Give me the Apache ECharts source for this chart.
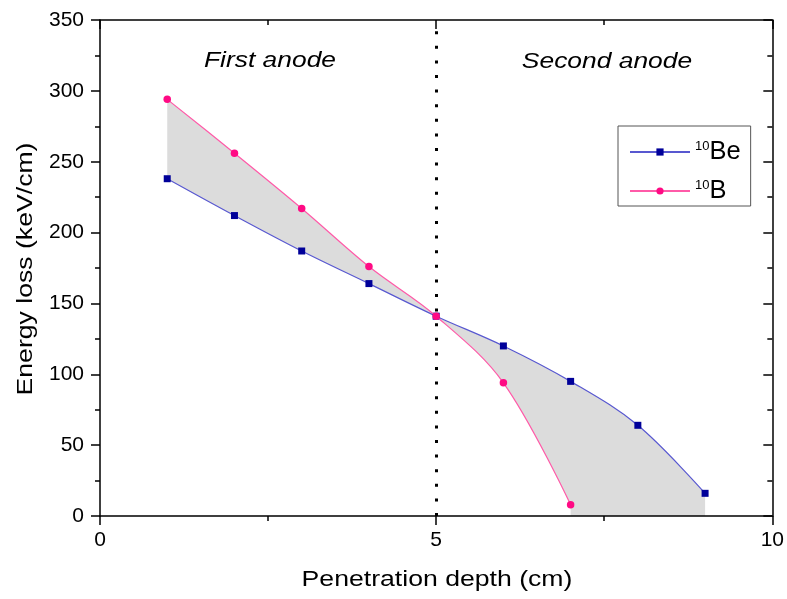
<!DOCTYPE html>
<html>
<head>
<meta charset="utf-8">
<script src="https://cdn.jsdelivr.net/npm/echarts@6/dist/echarts.min.js"></script>
<style>
  html, body { margin: 0; padding: 0; background: #fff; }
  #chart { width: 787px; height: 599px; }
</style>
</head>
<body>
<div id="chart"></div>
<script>
// Energy loss per depth for the two isotopes (keV/cm)
const depthBe = [1, 2, 3, 4, 5, 6, 7, 8, 9];
const lossBe  = [238, 212, 187, 164, 141, 120, 95, 64, 16];
const depthB  = [1, 2, 3, 4, 5, 6, 7];
const lossB   = [294, 256, 217, 176, 141, 94, 8];

// Isotope labels
const massNumber = '10';
const elementBe = 'Be';
const elementB = 'B';

// Anode boundary and region names
const anodeBoundary = 5;
const regionNames = ['First anode', 'Second anode'];

// Axis ranges and ticks
const xTicks = { min: 0, max: 10, interval: 5 };
const yTicks = { min: 0, max: 350, interval: 50 };

const SMOOTH = 0.35;
const FONT = '"Liberation Sans", Arial, sans-serif';

const pairs = (xs, ys) => xs.map((x, i) => [x, ys[i]]);
const beData = pairs(depthBe, lossBe);
const bData = pairs(depthB, lossB);

// Bezier segments for a smoothed polyline, same scheme as the line series uses.
function smoothSegments(pts, smooth) {
  const segs = [];
  let cpx0 = pts[0][0], cpy0 = pts[0][1];
  for (let i = 1; i < pts.length; i++) {
    const x = pts[i][0], y = pts[i][1];
    const prevX = pts[i - 1][0], prevY = pts[i - 1][1];
    let cpx1, cpy1, nextCpx0 = x, nextCpy0 = y;
    if (i === pts.length - 1) {
      cpx1 = x; cpy1 = y;
    } else {
      const nextX = pts[i + 1][0], nextY = pts[i + 1][1];
      let vx = nextX - prevX, vy = nextY - prevY;
      const lenPrev = Math.hypot(x - prevX, y - prevY);
      const lenNext = Math.hypot(nextX - x, nextY - y);
      const ratio = lenNext / (lenNext + lenPrev);
      nextCpx0 = x + vx * smooth * ratio;
      nextCpy0 = y + vy * smooth * ratio;
      nextCpx0 = Math.max(Math.min(nextCpx0, Math.max(nextX, x)), Math.min(nextX, x));
      nextCpy0 = Math.max(Math.min(nextCpy0, Math.max(nextY, y)), Math.min(nextY, y));
      vx = nextCpx0 - x; vy = nextCpy0 - y;
      cpx1 = x - vx * lenPrev / lenNext;
      cpy1 = y - vy * lenPrev / lenNext;
      cpx1 = Math.max(Math.min(cpx1, Math.max(prevX, x)), Math.min(prevX, x));
      cpy1 = Math.max(Math.min(cpy1, Math.max(prevY, y)), Math.min(prevY, y));
      vx = x - cpx1; vy = y - cpy1;
      nextCpx0 = x + vx * lenNext / lenPrev;
      nextCpy0 = y + vy * lenNext / lenPrev;
    }
    segs.push({ from: [prevX, prevY], c0: [cpx0, cpy0], c1: [cpx1, cpy1], to: [x, y] });
    cpx0 = nextCpx0; cpy0 = nextCpy0;
  }
  return segs;
}

const fmt = p => p[0].toFixed(2) + ' ' + p[1].toFixed(2);
const fwd = s => 'C' + fmt(s.c0) + ' ' + fmt(s.c1) + ' ' + fmt(s.to) + ' ';
const back = s => 'C' + fmt(s.c1) + ' ' + fmt(s.c0) + ' ' + fmt(s.from) + ' ';

// Grey band enclosed by the two curves (and the depth axis past the end of 10B)
function renderBand(params, api) {
  const pBe = beData.map(d => api.coord(d));
  const pB = bData.map(d => api.coord(d));
  const sBe = smoothSegments(pBe, SMOOTH);
  const sB = smoothSegments(pB, SMOOTH);
  const meet = depthB.indexOf(anodeBoundary);
  const baseEndBe = api.coord([depthBe[depthBe.length - 1], 0]);
  const baseEndB = api.coord([depthB[depthB.length - 1], 0]);
  let d = 'M' + fmt(pB[0]) + ' ';
  for (let i = 0; i < meet; i++) d += fwd(sB[i]);
  for (let i = meet; i < sBe.length; i++) d += fwd(sBe[i]);
  d += 'L' + fmt(baseEndBe) + ' L' + fmt(baseEndB) + ' L' + fmt(pB[pB.length - 1]) + ' ';
  for (let i = sB.length - 1; i >= meet; i--) d += back(sB[i]);
  for (let i = meet - 1; i >= 0; i--) d += back(sBe[i]);
  d += 'Z';
  return {
    type: 'path',
    shape: { pathData: d },
    style: { fill: '#dcdcdc', stroke: null }
  };
}

const chart = echarts.init(document.getElementById('chart'), null, { renderer: 'canvas' });

const axisLine = { show: true, onZero: false, lineStyle: { color: '#000', width: 1.5 } };
const tickStyle = { color: '#000', width: 1.5 };

function makeAxis(position, range, inside, labels) {
  return {
    type: 'value',
    position: position,
    min: range.min, max: range.max, interval: range.interval,
    axisLine: axisLine,
    splitLine: { show: false },
    axisTick: { show: true, inside: inside, length: 9, lineStyle: tickStyle },
    minorTick: { show: true, splitNumber: 2, length: 5, lineStyle: tickStyle },
    axisLabel: labels,
    z: 20
  };
}

const option = {
  animation: false,
  backgroundColor: '#fff',
  grid: { left: 100, right: 13, top: 20, bottom: 83, containLabel: false },
  xAxis: [
    makeAxis('bottom', xTicks, false, { color: '#000', fontSize: 21, fontFamily: FONT, margin: 14 }),
    makeAxis('top', xTicks, true, { show: false })
  ],
  yAxis: [
    makeAxis('left', yTicks, false, { color: '#000', fontSize: 21, fontFamily: FONT, margin: 16 }),
    makeAxis('right', yTicks, true, { show: false })
  ],
  legend: {
    data: [elementBe, elementB],
    orient: 'vertical',
    left: 618,
    top: 126,
    padding: [13, 10, 2, 11],
    itemGap: 13,
    itemWidth: 60,
    itemHeight: 9,
    borderColor: '#555',
    borderWidth: 1,
    borderRadius: 0,
    formatter: name => '{sup|' + massNumber + '}{main|' + name + '}',
    textStyle: {
      color: '#000',
      fontFamily: FONT,
      rich: {
        sup: { fontSize: 13, lineHeight: 13, verticalAlign: 'top', fontFamily: FONT, color: '#000' },
        main: { fontSize: 25.5, lineHeight: 24, fontFamily: FONT, color: '#000' }
      }
    }
  },
  series: [
    {
      name: 'band',
      type: 'custom',
      coordinateSystem: 'cartesian2d',
      data: [[anodeBoundary, 0]],
      renderItem: renderBand,
      silent: true,
      z: 1
    },
    {
      name: elementBe,
      type: 'line',
      data: beData,
      smooth: SMOOTH,
      symbol: 'rect',
      symbolSize: 7,
      itemStyle: { color: '#000099' },
      lineStyle: { color: '#5858d0', width: 1.2 },
      z: 10,
      markLine: {
        silent: true,
        symbol: ['none', 'none'],
        label: { show: false },
        lineStyle: { color: '#000', width: 3, type: [3, 11.6] },
        data: [{ xAxis: anodeBoundary }],
        z: 5
      }
    },
    {
      name: elementB,
      type: 'line',
      data: bData,
      smooth: SMOOTH,
      symbol: 'circle',
      symbolSize: 7.5,
      itemStyle: { color: '#ff0a84' },
      lineStyle: { color: '#ff5aa8', width: 1.2 },
      z: 11
    }
  ],
  graphic: [
    {
      type: 'text', x: 270, y: 61, scaleX: 1.2, z: 30,
      style: { text: regionNames[0], font: 'italic 22px ' + FONT, fill: '#000', textAlign: 'center', textVerticalAlign: 'middle' }
    },
    {
      type: 'text', x: 607, y: 62, scaleX: 1.2, z: 30,
      style: { text: regionNames[1], font: 'italic 22px ' + FONT, fill: '#000', textAlign: 'center', textVerticalAlign: 'middle' }
    },
    {
      type: 'text', x: 437, y: 580, scaleX: 1.21, z: 30,
      style: { text: 'Penetration depth (cm)', font: '22px ' + FONT, fill: '#000', textAlign: 'center', textVerticalAlign: 'middle' }
    },
    {
      type: 'text', x: 26, y: 269, scaleX: 1.21, rotation: Math.PI / 2, z: 30,
      style: { text: 'Energy loss (keV/cm)', font: '22px ' + FONT, fill: '#000', textAlign: 'center', textVerticalAlign: 'middle' }
    }
  ]
};

chart.setOption(option);
</script>
</body>
</html>
